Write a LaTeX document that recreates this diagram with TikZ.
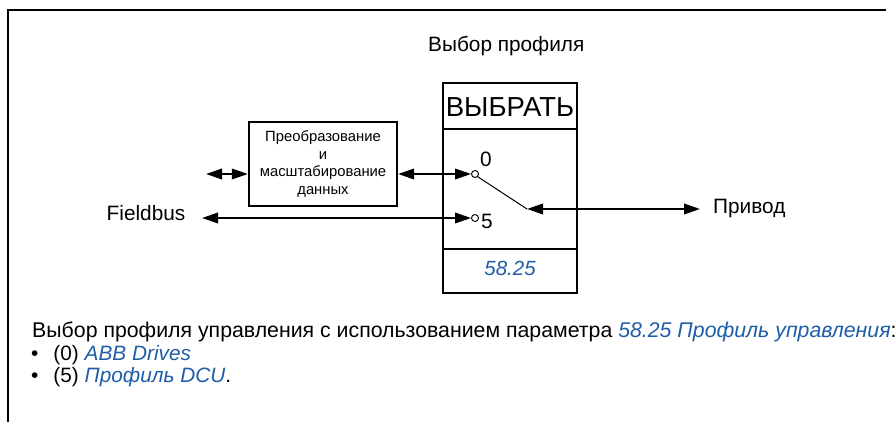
\documentclass[tikz,border=0pt]{standalone}
\usepackage{fontspec}
\setmainfont{Liberation Sans}
\usetikzlibrary{arrows.meta}
\definecolor{linkblue}{HTML}{1F5DA8}
\tikzset{
  frame/.style={line width=1.3pt},
  boxline/.style={line width=2.3pt},
  conn/.style={line width=2pt,{Triangle[length=16pt,width=10.5pt]}-{Triangle[length=16pt,width=10.5pt]}},
  term/.style={circle,draw,line width=0.9pt,fill=white,minimum size=7pt,inner sep=0pt},
  txt/.style={inner sep=0pt,font=\fontsize{20.8}{24}\selectfont},
}
\begin{document}
\begin{tikzpicture}[x=1pt,y=-1pt]
\useasboundingbox (0,0) rectangle (896,422);
% frame
\draw[frame] (886,10) -- (8,10) -- (8,422);
% title
\node[txt,anchor=base west] (title) at (428,52) {Выбор профиля};
% select box
\draw[boxline] (443,83) rectangle (577,293);
\draw[boxline] (443,129) -- (577,129);
\draw[boxline] (443,249) -- (577,249);
\node[inner sep=0pt,font=\fontsize{27.5}{30}\selectfont] (sel) at (510,107) {ВЫБРАТЬ};
\node[inner sep=0pt,font=\fontsize{20.5}{24}\selectfont\itshape,text=linkblue] (par) at (510,268) {58.25};
% conversion box
\node[draw,boxline,minimum width=148pt,minimum height=84pt,inner sep=0pt,align=center,
      font=\fontsize{14.8}{17.5}\selectfont] (conv) at (323,164)
      {Преобразование\\и\\масштабирование\\данных};
% left stub
\coordinate (stub) at (206,174);
\draw[conn] (stub) -- (conv.west |- stub);
% terminals
\node[term] (t0) at (475,174) {};
\node[term] (t5) at (475,218) {};
\node[txt,anchor=base west] (l0) at (480,167) {0};
\node[txt,anchor=base west] (l5) at (481,228) {5};
\draw[conn] (conv.east |- t0) -- (t0.west);
% fieldbus
\node[txt] (fb) at (146,213) {Fieldbus};
\coordinate (fbend) at (202,218);
\draw[conn] (fbend) -- (t5.west);
% switch blade
\coordinate (pivot) at (527,209);
\draw[line width=1pt] (t0.south east) -- (pivot);
% drive
\coordinate (drv) at (700,209);
\draw[conn] (pivot) -- (drv);
\node[txt,anchor=west] (privod) at (713,209) {Привод};
% bottom text
\node[inner sep=0pt,anchor=base west,font=\fontsize{21.3}{24}\selectfont] (desc) at (32,337) {Выбор профиля управления с использованием параметра \textcolor{linkblue}{\itshape 58.25 Профиль управления}:};
\node[txt,anchor=base west] (b1) at (31,360) {•\hspace{15pt}(0) \textcolor{linkblue}{\itshape ABB Drives}};
\node[txt,anchor=base west] (b2) at (31,382) {•\hspace{15pt}(5) \textcolor{linkblue}{\itshape Профиль DCU}.};
\end{tikzpicture}
\end{document}
